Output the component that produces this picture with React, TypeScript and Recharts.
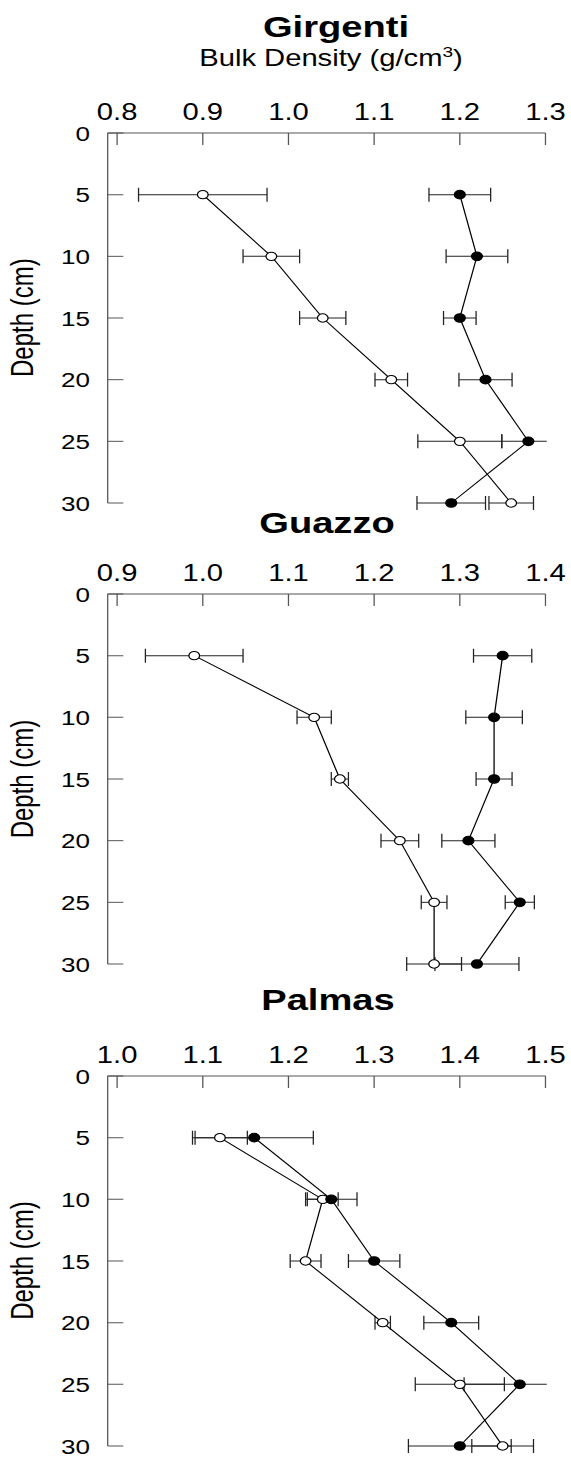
import React from 'react';
import { ScatterChart, Scatter, XAxis, YAxis, ErrorBar } from 'recharts';

// depth profiles of bulk density, open = first treatment, filled = second
const depths = [5, 10, 15, 20, 25, 30];
const depthTicks = [0, 5, 10, 15, 20, 25, 30];

const girgentiTicks = [0.8, 0.9, 1.0, 1.1, 1.2, 1.3];
const girgentiOpen = [0.9, 0.98, 1.04, 1.12, 1.2, 1.26];
const girgentiOpenErr = [0.075, 0.033, 0.027, 0.019, 0.049, 0.026];
const girgentiFilled = [1.2, 1.22, 1.2, 1.23, 1.28, 1.19];
const girgentiFilledErr = [0.036, 0.036, 0.019, 0.031, 0.031, 0.04];

const guazzoTicks = [0.9, 1.0, 1.1, 1.2, 1.3, 1.4];
const guazzoOpen = [0.99, 1.13, 1.16, 1.23, 1.27, 1.27];
const guazzoOpenErr = [0.057, 0.02, 0.01, 0.022, 0.015, 0.032];
const guazzoFilled = [1.35, 1.34, 1.34, 1.31, 1.37, 1.32];
const guazzoFilledErr = [0.034, 0.033, 0.021, 0.031, 0.017, 0.049];

const palmasTicks = [1.0, 1.1, 1.2, 1.3, 1.4, 1.5];
const palmasOpen = [1.12, 1.24, 1.22, 1.31, 1.4, 1.45];
const palmasOpenErr = [0.032, 0.018, 0.018, 0.009, 0.052, 0.036];
const palmasFilled = [1.16, 1.25, 1.3, 1.39, 1.47, 1.4];
const palmasFilledErr = [0.069, 0.03, 0.03, 0.032, 0.065, 0.06];

const FONT = '"Liberation Sans", Arial, Helvetica, sans-serif';
const S = 1.27; // the original figure is stretched horizontally
const W = 571 / S;
const PLOT_LEFT = 107.7 / S;
const PLOT_RIGHT = 545.5 / S;
const AXIS_H = 40;
const PLOT_H = 370;
const AXIS_COLOR = '#555';

const toRows = (xs: number[], errs: number[]) =>
  xs.map((x, i) => ({ x, y: depths[i], err: errs[i] }));

const XTick = (props: any) => {
  const { x, y, payload } = props;
  return (
    <g>
      <line x1={x} x2={x} y1={y + 13} y2={y + 25} stroke={AXIS_COLOR} strokeWidth={1} />
      <text x={x} y={y} textAnchor="middle" fontSize={23} fontFamily={FONT} fill="#000">
        {Number(payload.value).toFixed(1)}
      </text>
    </g>
  );
};

const YTick = (props: any) => {
  const { x, y, payload } = props;
  return (
    <g>
      <line x1={x + 14} x2={x + 14 + 12.3} y1={y} y2={y} stroke={AXIS_COLOR} strokeWidth={1} />
      <text x={x} y={y} dy="0.38em" textAnchor="end" fontSize={20.5} fontFamily={FONT} fill="#000">
        {payload.value}
      </text>
    </g>
  );
};

const openDot = (props: any) => (
  <circle cx={props.cx} cy={props.cy} r={4.2} fill="#fff" stroke="#000" strokeWidth={1} />
);
const filledDot = (props: any) => (
  <circle cx={props.cx} cy={props.cy} r={4.3} fill="#000" stroke="#000" strokeWidth={1} />
);

interface PanelProps {
  top: number;
  ticks: number[];
  open: number[];
  openErr: number[];
  filled: number[];
  filledErr: number[];
}

const Panel: React.FC<PanelProps> = ({ top, ticks, open, openErr, filled, filledErr }) => {
  const domain = [ticks[0] - 0.011, ticks[ticks.length - 1]];
  // error bars running past the last tick are cut at the axis end, as in the original
  const cut = PLOT_RIGHT + 1;
  const clip = `polygon(0 0, 100% 0, 100% ${AXIS_H}px, ${cut}px ${AXIS_H}px, ${cut}px 100%, 0 100%)`;
  return (
    <div style={{ position: 'absolute', left: 0, top: top - AXIS_H, width: W, clipPath: clip }}>
      <ScatterChart
        width={W}
        height={AXIS_H + PLOT_H + 12}
        margin={{ top: 0, right: W - PLOT_RIGHT, bottom: 12, left: 0 }}
      >
        <XAxis
          type="number"
          dataKey="x"
          orientation="top"
          domain={domain}
          ticks={ticks}
          interval={0}
          allowDataOverflow
          height={AXIS_H}
          tickSize={0}
          tickMargin={13}
          tick={<XTick />}
          axisLine={{ stroke: AXIS_COLOR }}
        />
        <YAxis
          type="number"
          dataKey="y"
          reversed
          domain={[0, 30]}
          ticks={depthTicks}
          interval={0}
          width={PLOT_LEFT}
          tickSize={0}
          tickMargin={14}
          tick={<YTick />}
          axisLine={{ stroke: AXIS_COLOR }}
        />
        <Scatter
          data={toRows(open, openErr)}
          line={{ stroke: '#000', strokeWidth: 1 }}
          lineType="joint"
          shape={openDot}
          isAnimationActive={false}
        >
          <ErrorBar dataKey="err" direction="x" width={7} stroke="#222" strokeWidth={1} isAnimationActive={false} />
        </Scatter>
        <Scatter
          data={toRows(filled, filledErr)}
          line={{ stroke: '#000', strokeWidth: 1 }}
          lineType="joint"
          shape={filledDot}
          isAnimationActive={false}
        >
          <ErrorBar dataKey="err" direction="x" width={7} stroke="#222" strokeWidth={1} isAnimationActive={false} />
        </Scatter>
      </ScatterChart>
    </div>
  );
};

const depthLabel = (cy: number) => (
  <text
    x={26.2}
    y={cy}
    transform={`rotate(-90 26.2 ${cy})`}
    textAnchor="middle"
    fontSize={24}
    fontFamily={FONT}
    fill="#000"
  >
    Depth (cm)
  </text>
);

export default function App() {
  const tops = [132.7, 594, 1075.5];
  return (
    <div style={{ position: 'absolute', left: 0, top: 0, width: 571, height: 1459, overflow: 'hidden', background: '#fff' }}>
      <div style={{ position: 'absolute', left: 0, top: 0, width: W, height: 1459, transform: `scaleX(${S})`, transformOrigin: '0 0' }}>
        <Panel top={tops[0]} ticks={girgentiTicks} open={girgentiOpen} openErr={girgentiOpenErr} filled={girgentiFilled} filledErr={girgentiFilledErr} />
        <Panel top={tops[1]} ticks={guazzoTicks} open={guazzoOpen} openErr={guazzoOpenErr} filled={guazzoFilled} filledErr={guazzoFilledErr} />
        <Panel top={tops[2]} ticks={palmasTicks} open={palmasOpen} openErr={palmasOpenErr} filled={palmasFilled} filledErr={palmasFilledErr} />
        <svg width={W} height={1459} style={{ position: 'absolute', left: 0, top: 0, pointerEvents: 'none' }}>
          <text x={336 / S} y={36.7} textAnchor="middle" fontSize={30} fontWeight="bold" fontFamily={FONT}>Girgenti</text>
          <text x={331 / S} y={66.5} textAnchor="middle" fontSize={23} fontFamily={FONT}>
            Bulk Density (g/cm<tspan dy={-9} fontSize={15}>3</tspan><tspan dy={9}>)</tspan>
          </text>
          <text x={327 / S} y={533.3} textAnchor="middle" fontSize={30} fontWeight="bold" fontFamily={FONT}>Guazzo</text>
          <text x={328 / S} y={1010} textAnchor="middle" fontSize={30} fontWeight="bold" fontFamily={FONT}>Palmas</text>
          {tops.map((t) => (
            <React.Fragment key={t}>{depthLabel(t + PLOT_H / 2)}</React.Fragment>
          ))}
        </svg>
      </div>
    </div>
  );
}
